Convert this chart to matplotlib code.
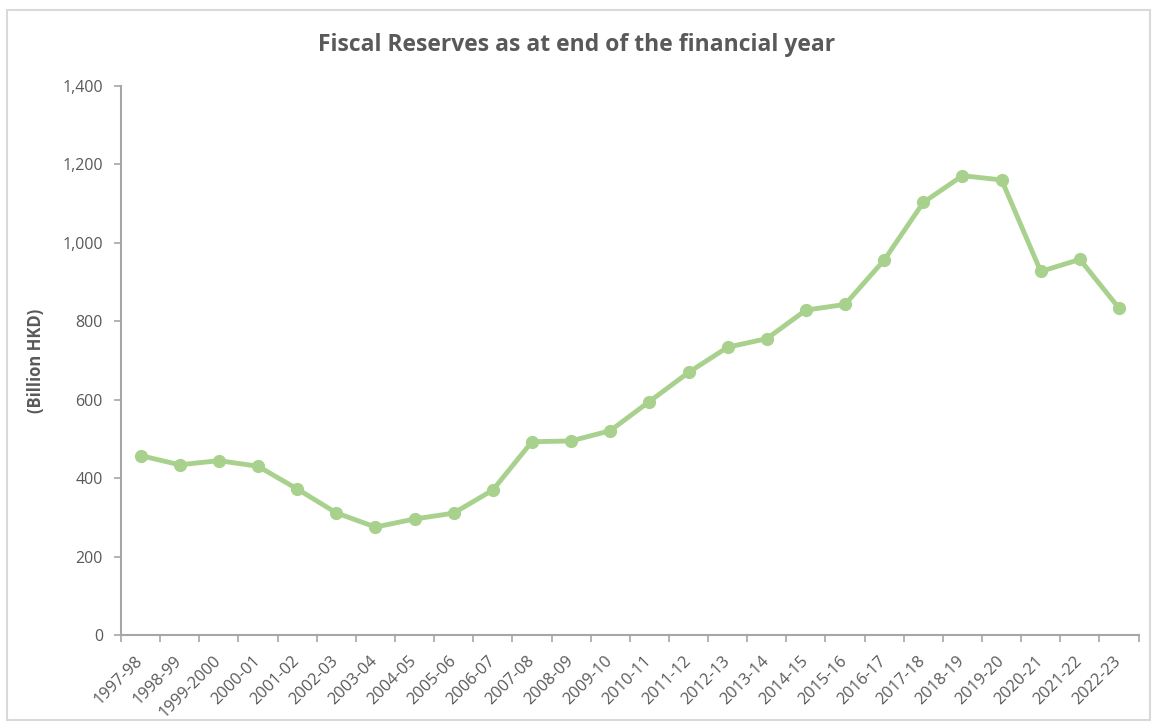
import matplotlib.pyplot as plt
from matplotlib.patches import Rectangle
from matplotlib.ticker import FuncFormatter

# Fiscal reserves at end of financial year (HKD billion)
years = ["1997-98", "1998-99", "1999-2000", "2000-01", "2001-02", "2002-03",
         "2003-04", "2004-05", "2005-06", "2006-07", "2007-08", "2008-09",
         "2009-10", "2010-11", "2011-12", "2012-13", "2013-14", "2014-15",
         "2015-16", "2016-17", "2017-18", "2018-19", "2019-20", "2020-21",
         "2021-22", "2022-23"]
reserves = [457.5, 434.0, 444.6, 430.3, 372.5, 311.4, 275.3, 295.8, 310.8,
            369.6, 492.9, 494.8, 521.0, 595.4, 669.4, 733.9, 755.7, 828.5,
            843.0, 956.2, 1103.0, 1171.3, 1160.4, 927.0, 957.8, 833.4]

text_col = "#595959"
axis_col = "#A6A6A6"
line_col = "#A9D18E"

plt.rcParams['font.family'] = ['Open Sans', 'DejaVu Sans']

fig = plt.figure(figsize=(11.54, 7.24), dpi=100)
# light border around the chart area, like an Excel chart box
fig.patches.append(Rectangle((7 / 1154, 4 / 724), 1143 / 1154, 710 / 724,
                             transform=fig.transFigure, fill=False,
                             edgecolor="#D9D9D9", linewidth=1.5))

ax = fig.add_axes([121 / 1154, 1 - 635 / 724, (1138.6 - 121) / 1154, (635 - 86) / 724])
x = list(range(len(years)))
ax.plot(x, reserves, color=line_col, linewidth=3.5, marker="o", markersize=8.5,
        solid_joinstyle="round")

ax.set_xlim(-0.5, len(years) - 0.5)
ax.set_ylim(0, 1400)
ax.set_yticks(range(0, 1401, 200))
ax.yaxis.set_major_formatter(FuncFormatter(lambda v, p: f"{int(v):,}"))

ax.set_xticks(x)
ax.set_xticklabels(years, rotation=45, ha="right", va="center", rotation_mode="anchor")
ax.set_xticks([i - 0.5 for i in range(len(years) + 1)], minor=True)
ax.tick_params(axis="x", which="major", length=0, pad=17, labelsize=11.8, labelcolor=text_col)
ax.tick_params(axis="x", which="minor", length=5, width=1.2, color=axis_col, direction="out")
ax.tick_params(axis="y", length=5, width=1.2, color=axis_col, pad=8, labelsize=11.5, labelcolor=text_col)

for s in ["top", "right"]:
    ax.spines[s].set_visible(False)
for s in ["left", "bottom"]:
    ax.spines[s].set_color(axis_col)
    ax.spines[s].set_linewidth(1.5)

ax.set_ylabel("(Billion HKD)", fontsize=12, fontweight="bold", color=text_col, labelpad=0)
ax.yaxis.set_label_coords(-(121 - 45) / (1138.6 - 121), 0.5)
fig.text(0.5, 1 - 45 / 724, "Fiscal Reserves as at end of the financial year",
         ha="center", va="center", fontsize=16.5, fontweight="bold", color=text_col)

fig.savefig("out.png", dpi=100)
